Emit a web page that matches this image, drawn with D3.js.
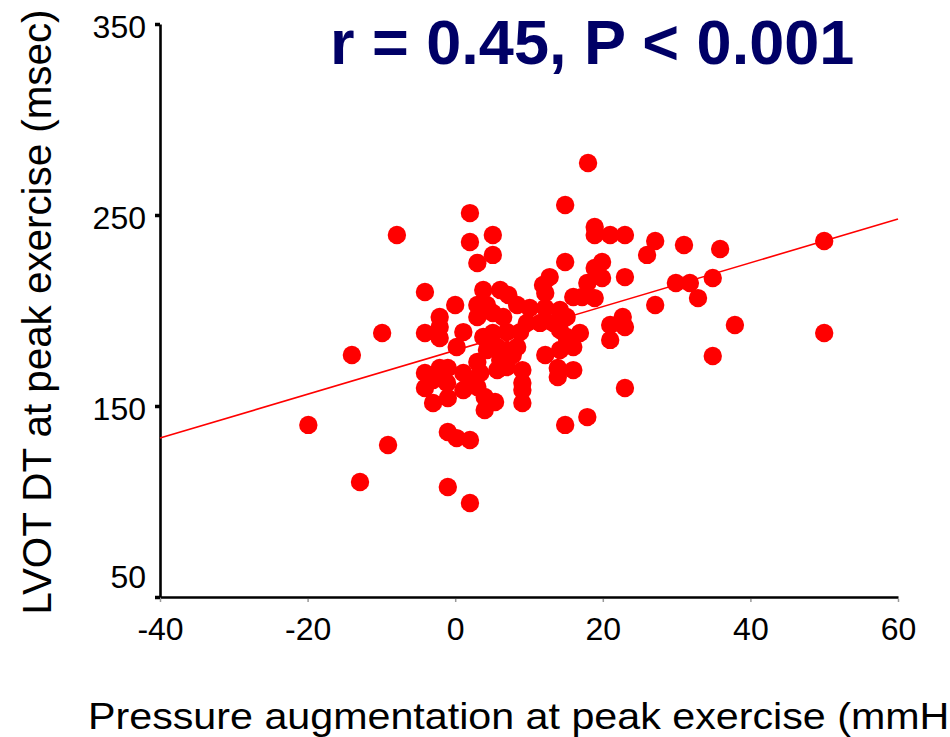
<!DOCTYPE html>
<html><head><meta charset="utf-8">
<script src="https://cdn.jsdelivr.net/npm/d3@7"></script>
<style>
body{margin:0;background:#fff;}
text{font-family:Arial,"Liberation Sans",sans-serif;}
</style></head>
<body><svg id="chart" width="950" height="737"></svg>
<script>
// Data: pressure augmentation (mmHg) vs LVOT DT (msec)
const xValues = [-19.9,-14.0,-12.9,-9.1,-9.9,-7.9,-4.1,-4.1,-4.1,-4.1,-3.0,-3.0,-2.1,-2.1,-2.1,-2.1,-1.0,-1.1,-1.0,-1.0,0.2,2.0,-1.0,2.0,0.0,0.2,1.1,1.1,1.1,2.0,2.0,3.0,5.1,5.1,2.4,3.4,3.0,4.0,5.4,4.0,3.8,6.1,7.2,3.0,4.3,8.4,10.1,12.2,14.2,15.1,3.0,5.1,6.5,3.8,5.1,7.0,8.8,9.7,11.5,13.3,14.2,15.1,16.9,16.0,14.2,12.2,5.7,7.0,8.4,6.1,4.3,3.0,7.8,5.7,7.0,9.1,9.1,9.1,9.1,13.9,13.9,16.0,14.9,18.0,18.9,18.9,21.0,23.0,14.9,19.9,18.9,19.9,23.0,12.8,11.9,12.2,17.9,16.0,18.9,17.2,21.0,22.7,23.0,21.0,23.0,14.9,17.9,26.0,27.1,31.0,35.9,50.0,29.9,31.8,34.9,32.9,27.1,37.9,50.0,34.9];
const yValues = [140.1,176.7,110.2,129.6,188.2,239.5,209.7,188.2,167.3,159.4,163.6,151.6,196.6,191.4,185.6,169.9,169.9,162.0,154.2,136.4,133.2,132.2,107.6,99.2,202.9,180.9,188.7,167.3,158.4,251.0,235.9,224.9,239.5,229.1,163.6,167.3,159.9,154.7,152.1,147.9,210.7,210.7,208.1,202.9,202.9,202.9,201.3,201.3,200.3,196.6,196.6,198.7,196.6,186.1,188.2,188.7,188.7,193.5,193.5,193.5,189.8,186.1,188.2,180.9,179.3,176.7,180.9,179.3,180.9,174.1,179.3,173.0,176.7,168.8,170.4,168.8,162.0,158.4,151.6,169.9,165.2,168.8,255.2,277.2,243.7,239.5,239.5,239.5,225.4,225.4,222.3,217.0,217.5,217.5,213.4,209.2,214.4,207.1,206.5,207.1,192.4,196.6,191.4,184.6,159.4,140.1,144.2,229.1,236.4,234.3,232.2,236.4,214.4,214.4,217.0,206.5,202.9,192.4,188.2,176.2];
const xTicks = [-40,-20,0,20,40,60];
const yTicks = [50,150,250,350];
const fitCoef = [179.1, 1.147]; // intercept, slope
const titleText = "r = 0.45, P < 0.001";
const xLabel = "Pressure augmentation at peak exercise (mmHg)";
const yLabel = "LVOT DT at peak exercise (msec)";

const svg = d3.select("#chart");
const mL = 160, mR = 898, mT = 24, mB = 597;
const x = d3.scaleLinear().domain([-40,60]).range([mL,mR]);
const y = d3.scaleLinear().domain([50,350]).range([mB,mT]);
const fmt = d => String(d);

// axes
const yAxis = svg.append("g").attr("transform",`translate(${mL},0)`)
  .call(d3.axisLeft(y).tickValues(yTicks).tickFormat(fmt).tickSize(5).tickSizeOuter(0).tickPadding(9));
yAxis.select(".domain").attr("stroke","#000").attr("stroke-width",2.6);
yAxis.selectAll(".tick line").attr("stroke","#000").attr("stroke-width",3.5);
yAxis.selectAll(".tick text").attr("font-size",32).attr("fill","#000")
  .attr("dy", (d,i)=> i===0 ? "-0.3em" : "0.42em");

const xAxis = svg.append("g").attr("transform",`translate(0,${mB})`)
  .call(d3.axisBottom(x).tickValues(xTicks).tickFormat(fmt).tickSize(5).tickSizeOuter(0).tickPadding(15));
xAxis.select(".domain").attr("stroke","#000").attr("stroke-width",2.6);
xAxis.selectAll(".tick line").attr("stroke","#999").attr("stroke-width",1.5).attr("y1",2);
xAxis.selectAll(".tick text").attr("font-size",32).attr("fill","#000");

// fit line
svg.append("line")
  .attr("x1",x(-40)).attr("y1",y(fitCoef[0]+fitCoef[1]*-40))
  .attr("x2",x(60)).attr("y2",y(fitCoef[0]+fitCoef[1]*60))
  .attr("stroke","#ff0000").attr("stroke-width",1.6);

// points
svg.append("g").selectAll("circle").data(xValues.map((v,i)=>[v,yValues[i]]))
  .join("circle").attr("cx",d=>x(d[0])).attr("cy",d=>y(d[1])).attr("r",9.2).attr("fill","#ff0000");

// title
svg.append("text").attr("x",330).attr("y",64).attr("font-size",63).attr("font-weight","bold")
  .attr("fill","#000066").text(titleText);

// axis titles
svg.append("text").attr("x",88).attr("y",729).attr("font-size",37).attr("fill","#000")
  .attr("textLength",898).attr("lengthAdjust","spacingAndGlyphs").text(xLabel);
svg.append("text").attr("transform","translate(51,312) rotate(-90)").attr("text-anchor","middle")
  .attr("font-size",40).attr("fill","#000")
  .attr("textLength",605).attr("lengthAdjust","spacingAndGlyphs").text(yLabel);
</script></body></html>
